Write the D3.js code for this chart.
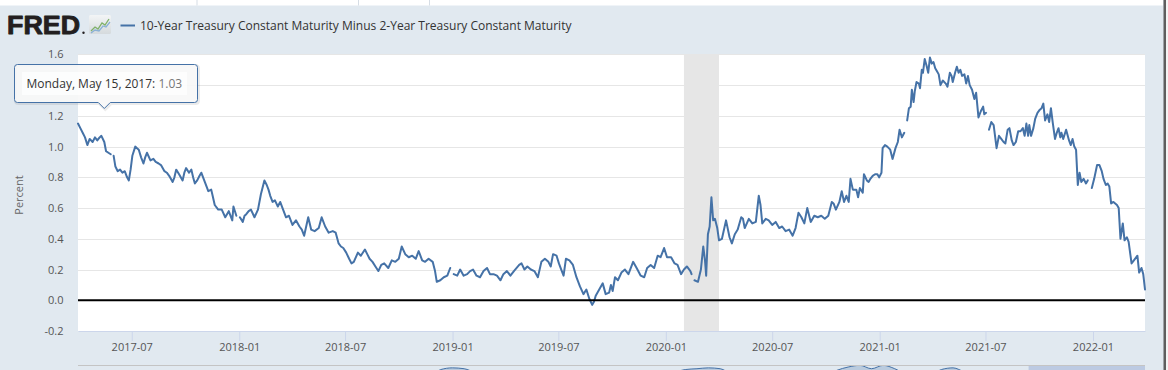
<!DOCTYPE html>
<html><head><meta charset="utf-8">
<script src="https://cdn.jsdelivr.net/npm/d3@7"></script>
<style>
html,body{margin:0;padding:0;background:#fff;overflow:hidden}
svg{display:block;font-family:"Open Sans",sans-serif}
</style></head><body>
<svg id="chart" width="1168" height="370"></svg>
<script>
// ---------------- DATA ----------------
const seriesTitle = "10-Year Treasury Constant Maturity Minus 2-Year Treasury Constant Maturity";
const yAxisTitle = "Percent";
const yTicks = [-0.2, 0, 0.2, 0.4, 0.6, 0.8, 1.0, 1.2, 1.4, 1.6];
const xTickLabels = ["2017-07","2018-01","2018-07","2019-01","2019-07","2020-01","2020-07","2021-01","2021-07","2022-01"];
const xDomain = ["2017-03-31", "2022-03-31"];
const recession = ["2020-02-01", "2020-04-01"];
const tooltipDate = "2017-05-15";
const tooltipLabel = "Monday, May 15, 2017";
const tooltipValue = "1.03";

const obsDates = [
"2017-03-31",
"2017-04-04","2017-04-08","2017-04-12","2017-04-16","2017-04-20","2017-04-25","2017-04-29",
"2017-05-03","2017-05-07","2017-05-10","2017-05-15","2017-05-18","2017-05-22","2017-05-26","2017-05-29","2017-05-31",
"2017-06-03","2017-06-07","2017-06-11","2017-06-15","2017-06-19","2017-06-23","2017-06-26","2017-06-29",
"2017-07-02","2017-07-07","2017-07-10","2017-07-13","2017-07-17","2017-07-21","2017-07-24","2017-07-27",
"2017-08-02","2017-08-07","2017-08-11","2017-08-16","2017-08-20","2017-08-26","2017-08-30",
"2017-09-03","2017-09-09","2017-09-12","2017-09-15","2017-09-20","2017-09-26","2017-09-29",
"2017-10-02","2017-10-07","2017-10-11","2017-10-14","2017-10-17","2017-10-21","2017-10-25","2017-10-28",
"2017-11-03","2017-11-09","2017-11-14","2017-11-17","2017-11-20","2017-11-26",
"2017-12-02","2017-12-08","2017-12-14","2017-12-20","2017-12-22","2017-12-27","2017-12-29",
"2018-01-02","2018-01-07","2018-01-10","2018-01-13","2018-01-17","2018-01-21","2018-01-27",
"2018-02-02","2018-02-07","2018-02-13","2018-02-17","2018-02-20","2018-02-23","2018-02-27",
"2018-03-03","2018-03-08","2018-03-12","2018-03-17","2018-03-22","2018-03-27",
"2018-04-02","2018-04-08","2018-04-14","2018-04-18","2018-04-22","2018-04-29",
"2018-05-04","2018-05-10","2018-05-17","2018-05-22","2018-05-28",
"2018-06-03","2018-06-10","2018-06-15","2018-06-20","2018-06-24","2018-06-28",
"2018-07-03","2018-07-08","2018-07-12","2018-07-16","2018-07-23","2018-07-28",
"2018-08-04","2018-08-08","2018-08-12","2018-08-17","2018-08-22","2018-08-27",
"2018-09-01","2018-09-06","2018-09-13","2018-09-19","2018-09-25",
"2018-10-01","2018-10-06","2018-10-12","2018-10-18","2018-10-24","2018-10-30",
"2018-11-04","2018-11-10","2018-11-15","2018-11-21","2018-11-28",
"2018-12-02","2018-12-05","2018-12-11","2018-12-17","2018-12-23","2018-12-28","2018-12-31",
"2019-01-03","2019-01-09","2019-01-14","2019-01-20","2019-01-26","2019-01-31",
"2019-02-05","2019-02-11","2019-02-17","2019-02-23",
"2019-03-01","2019-03-06","2019-03-12","2019-03-18","2019-03-24","2019-03-29",
"2019-04-04","2019-04-10","2019-04-16","2019-04-25","2019-04-29",
"2019-05-04","2019-05-09","2019-05-15","2019-05-21","2019-05-27",
"2019-06-02","2019-06-08","2019-06-14","2019-06-18","2019-06-22","2019-06-28",
"2019-07-02","2019-07-06","2019-07-10","2019-07-14","2019-07-20","2019-07-26",
"2019-08-01","2019-08-07","2019-08-13","2019-08-18","2019-08-23","2019-08-28","2019-08-31",
"2019-09-03","2019-09-09","2019-09-15","2019-09-20","2019-09-26","2019-09-29",
"2019-10-02","2019-10-06","2019-10-11","2019-10-17","2019-10-23","2019-10-29",
"2019-11-06","2019-11-12","2019-11-19","2019-11-25","2019-11-30",
"2019-12-06","2019-12-12","2019-12-18","2019-12-23","2019-12-29",
"2020-01-03","2020-01-10","2020-01-16","2020-01-21","2020-01-27",
"2020-02-01","2020-02-06","2020-02-12","2020-02-14","2020-02-17","2020-02-19","2020-02-25",
"2020-03-01","2020-03-05","2020-03-08","2020-03-10","2020-03-13","2020-03-16","2020-03-19","2020-03-22","2020-03-25","2020-03-29",
"2020-04-01","2020-04-06","2020-04-13","2020-04-19","2020-04-23","2020-04-28",
"2020-05-03","2020-05-09","2020-05-12","2020-05-15","2020-05-22","2020-05-28",
"2020-06-03","2020-06-08","2020-06-11","2020-06-14","2020-06-20","2020-06-25",
"2020-07-01","2020-07-07","2020-07-13","2020-07-18","2020-07-24","2020-07-30",
"2020-08-05","2020-08-10","2020-08-15","2020-08-20","2020-08-25","2020-08-30",
"2020-09-05","2020-09-11","2020-09-17","2020-09-23","2020-09-29",
"2020-10-05","2020-10-11","2020-10-14","2020-10-18","2020-10-24","2020-10-28",
"2020-11-01","2020-11-05","2020-11-09","2020-11-12","2020-11-16","2020-11-22","2020-11-25","2020-11-28",
"2020-12-03","2020-12-05","2020-12-10","2020-12-13","2020-12-16","2020-12-20","2020-12-24","2020-12-28","2020-12-31",
"2021-01-04","2021-01-06","2021-01-10","2021-01-14","2021-01-19","2021-01-23","2021-01-28",
"2021-02-01","2021-02-04","2021-02-08","2021-02-12","2021-02-15","2021-02-17","2021-02-20","2021-02-23","2021-02-25","2021-02-28",
"2021-03-02","2021-03-05","2021-03-09","2021-03-11","2021-03-14","2021-03-16","2021-03-19","2021-03-22","2021-03-25","2021-03-28","2021-03-31",
"2021-04-03","2021-04-06","2021-04-09","2021-04-12","2021-04-15","2021-04-19","2021-04-24","2021-04-27",
"2021-05-01","2021-05-04","2021-05-06","2021-05-10","2021-05-13","2021-05-16","2021-05-19","2021-05-22","2021-05-26","2021-05-29",
"2021-06-01","2021-06-04","2021-06-08","2021-06-12","2021-06-15","2021-06-19","2021-06-23","2021-06-27","2021-06-29",
"2021-07-02","2021-07-05","2021-07-07","2021-07-11","2021-07-15","2021-07-20","2021-07-24","2021-07-28",
"2021-08-01","2021-08-04","2021-08-08","2021-08-11","2021-08-15","2021-08-18","2021-08-22","2021-08-26","2021-08-30",
"2021-09-03","2021-09-06","2021-09-09","2021-09-12","2021-09-14","2021-09-17","2021-09-21","2021-09-24","2021-09-28",
"2021-10-02","2021-10-05","2021-10-08","2021-10-11","2021-10-15","2021-10-18","2021-10-21","2021-10-24","2021-10-28","2021-10-31",
"2021-11-03","2021-11-06","2021-11-08","2021-11-11","2021-11-16","2021-11-21","2021-11-24","2021-11-27","2021-11-30",
"2021-12-03","2021-12-06","2021-12-09","2021-12-12","2021-12-16","2021-12-20","2021-12-23","2021-12-26","2021-12-30",
"2022-01-03","2022-01-08","2022-01-12","2022-01-16","2022-01-19","2022-01-23","2022-01-26","2022-01-29",
"2022-02-01","2022-02-05","2022-02-11","2022-02-14","2022-02-17","2022-02-21","2022-02-24","2022-02-28",
"2022-03-03","2022-03-08","2022-03-12","2022-03-18","2022-03-21","2022-03-25","2022-03-28","2022-03-31"
];
const obsValues = [
1.15,
1.12,1.09,1.06,1.01,1.05,1.03,1.06,
1.04,1.06,1.07,1.03,0.97,0.96,0.95,null,0.94,
0.87,0.84,0.85,0.83,0.84,0.80,0.78,0.85,
0.94,1.00,0.99,0.98,0.93,0.89,0.93,0.96,
0.91,0.92,0.90,0.89,0.88,0.84,0.83,
0.81,0.77,0.80,0.85,0.82,0.78,0.83,
0.86,0.83,0.85,0.80,0.76,0.78,0.81,0.83,
0.77,0.71,0.72,0.67,0.62,0.59,
0.59,0.54,0.58,0.52,0.61,0.55,null,
0.54,0.51,0.55,0.56,0.58,0.59,0.54,
0.59,0.69,0.78,0.75,0.72,0.68,0.64,
0.65,0.61,0.64,0.59,0.54,0.55,
0.49,0.52,0.48,0.46,0.42,0.54,
0.46,0.45,0.47,0.54,0.48,
0.44,0.45,0.44,0.37,0.35,0.34,
0.31,0.27,0.24,0.25,0.31,0.29,
0.33,0.30,0.27,0.25,0.22,0.19,
0.23,0.24,0.21,0.26,0.25,
0.27,0.35,0.30,0.28,0.29,0.27,
0.32,0.26,0.25,0.27,0.25,
0.19,0.12,0.13,0.15,0.16,0.21,null,
0.17,0.16,0.20,0.16,0.17,0.19,
0.20,0.16,0.15,0.19,
0.21,0.17,0.17,0.16,0.13,0.17,
0.19,0.16,0.19,0.23,0.24,
0.20,0.22,0.20,0.19,0.15,
0.25,0.27,0.25,0.22,0.30,0.29,
0.24,0.20,0.16,0.27,0.26,0.23,
0.15,0.09,0.04,0.07,0.01,-0.03,-0.01,
0.03,0.07,0.11,0.04,0.05,0.10,
0.06,0.15,0.13,0.18,0.20,0.17,
0.25,0.21,0.16,0.15,0.21,
0.23,0.21,0.29,0.28,0.34,
0.28,0.28,0.24,0.23,0.17,
0.20,0.22,0.19,0.17,null,0.13,0.12,
0.20,0.35,0.26,0.16,0.43,0.48,0.67,0.52,0.53,0.47,
0.39,0.40,0.52,0.41,0.37,0.43,
0.46,0.54,0.53,0.47,0.53,0.50,
0.51,0.68,0.62,0.50,0.53,0.52,
0.49,0.51,0.47,0.48,0.45,0.46,
0.42,0.47,0.57,0.54,0.50,0.60,
0.51,0.55,0.54,0.55,0.53,
0.55,0.64,0.63,0.59,0.64,0.71,
0.64,0.68,0.64,0.79,0.72,0.72,0.67,0.73,
0.70,0.82,0.78,0.77,0.79,0.81,0.82,0.82,0.80,
0.83,0.99,1.01,1.00,0.98,0.92,0.99,
1.03,1.11,1.06,1.09,null,1.17,1.25,1.26,1.37,1.29,
1.36,1.42,1.41,1.38,1.50,1.48,1.57,1.53,1.48,1.58,1.54,
1.55,1.51,1.49,1.47,1.40,1.43,1.41,1.39,
1.48,1.46,1.42,1.48,1.52,1.48,1.50,1.46,1.47,1.41,
1.46,1.40,1.37,1.31,1.35,1.19,1.23,1.26,1.21,
1.22,null,1.11,1.16,1.14,0.99,1.07,1.05,
1.03,1.02,1.11,1.12,1.04,1.01,1.03,1.10,1.10,
1.12,1.07,1.15,1.07,1.14,1.07,1.12,1.18,1.22,
1.24,1.25,1.28,1.17,1.21,1.16,1.25,1.16,1.05,1.09,
1.12,1.06,1.09,1.05,1.11,1.04,1.01,1.05,1.00,
0.98,0.75,0.83,0.77,0.79,0.76,0.78,null,0.73,
0.79,0.88,0.88,0.84,0.79,0.75,0.76,0.74,
0.63,0.64,0.62,0.60,0.40,0.50,0.39,0.41,
0.38,0.24,0.26,0.29,0.18,0.21,0.17,0.07
];

// navigator (full history, semi-annual approximations)
const navDates = [
"1976-06-01","1977-01-01","1977-07-01","1978-01-01","1978-07-01","1979-01-01","1979-07-01","1980-01-01","1980-07-01",
"1981-01-01","1981-07-01","1982-01-01","1982-07-01","1983-01-01","1983-07-01","1984-01-01","1984-07-01","1985-01-01","1985-07-01",
"1986-01-01","1986-07-01","1987-01-01","1987-07-01","1988-01-01","1988-07-01","1989-01-01","1989-07-01","1990-01-01","1990-07-01",
"1991-01-01","1991-07-01","1992-01-01","1992-07-01","1993-01-01","1993-07-01","1994-01-01","1994-07-01","1995-01-01","1995-07-01",
"1996-01-01","1996-07-01","1997-01-01","1997-07-01","1998-01-01","1998-07-01","1999-01-01","1999-07-01","2000-01-01","2000-07-01",
"2001-01-01","2001-07-01","2002-01-01","2002-07-01","2003-01-01","2003-07-01","2004-01-01","2004-07-01","2005-01-01","2005-07-01",
"2006-01-01","2006-07-01","2007-01-01","2007-07-01","2008-01-01","2008-07-01","2009-01-01","2009-07-01","2010-01-01","2010-07-01",
"2011-01-01","2011-07-01","2012-01-01","2012-07-01","2013-01-01","2013-07-01","2014-01-01","2014-07-01","2015-01-01","2015-07-01",
"2016-01-01","2016-07-01","2017-01-01","2017-07-01","2018-01-01","2018-07-01","2019-01-01","2019-07-01","2020-01-01","2020-07-01",
"2021-01-01","2021-07-01","2022-01-01","2022-03-31"
];
const navValues = [
1.3,1.2,0.9,0.3,0.2,-0.6,-0.5,-0.9,0.8,
-1.4,-1.0,0.1,0.8,1.5,0.9,0.7,0.6,1.1,1.2,
0.8,0.8,0.9,1.0,0.7,0.5,0.1,-0.1,0.2,0.5,
1.2,1.5,2.3,2.5,2.4,1.9,1.5,1.0,0.4,0.5,
0.5,0.6,0.5,0.3,0.2,0.1,0.2,0.2,0.0,-0.3,
0.4,1.3,1.9,2.3,2.4,2.5,2.4,1.7,1.0,0.3,
0.0,-0.1,-0.1,0.1,1.0,1.5,2.2,2.6,2.8,2.4,
2.8,2.4,1.7,1.4,1.6,2.3,2.5,2.0,1.5,1.6,
1.2,0.9,1.2,0.9,0.6,0.3,0.2,0.1,0.2,0.5,
1.0,1.2,0.8,0.1
];

// ---------------- DRAW ----------------
const W = 1168, H = 370;
const P = {left: 78, right: 1145, top: 54.4, bottom: 331};
const parse = d3.timeParse("%Y-%m-%d");
const parseMonth = d3.timeParse("%Y-%m");
const svg = d3.select("#chart");

const x = d3.scaleTime().domain(xDomain.map(parse)).range([P.left, P.right]);
const y = d3.scaleLinear().domain([-0.2, 1.6]).range([P.bottom, P.top]);

// tooltip box geometry
const bx0 = 14.5, bx1 = 197.5, by0 = 64.5, by1 = 102.5, r = 3;

// background
svg.append("rect").attr("width", W).attr("height", H).attr("fill", "#e1e9f0");
svg.append("rect").attr("width", 1163).attr("height", 5.5).attr("fill", "#ffffff");
[197, 358.5, 429.5].forEach(px => svg.append("line").attr("x1", px).attr("x2", px).attr("y1", 0).attr("y2", 5.5).attr("stroke", "#d6dde5"));
svg.append("rect").attr("x", 1163.5).attr("y", 0).attr("width", 2.5).attr("height", H).attr("fill", "#5e5e5e");
svg.append("rect").attr("x", 1166).attr("y", 0).attr("width", 2).attr("height", H).attr("fill", "#f4f4f4");

// header
svg.append("text").attr("x", 7).attr("y", 34).attr("font-family", "'Liberation Sans', Arial, sans-serif")
  .attr("font-weight", 700).attr("font-size", 26).attr("fill", "#231f20")
  .attr("stroke", "#231f20").attr("stroke-width", 0.9).attr("stroke-linejoin", "round")
  .attr("textLength", 73).attr("lengthAdjust", "spacingAndGlyphs").text("FRED");
svg.append("circle").attr("cx", 83.5).attr("cy", 32.8).attr("r", 1.2).attr("fill", "#231f20");
const icon = svg.append("g").attr("transform", "translate(89,15)");
const grad = svg.append("defs").append("linearGradient").attr("id", "ig").attr("x1", 0).attr("y1", 0).attr("x2", 0).attr("y2", 1);
grad.append("stop").attr("offset", 0).attr("stop-color", "#f3f5f6");
grad.append("stop").attr("offset", 1).attr("stop-color", "#d5dadd");
icon.append("rect").attr("width", 22).attr("height", 19).attr("rx", 1.5).attr("fill", "url(#ig)");
icon.append("polyline").attr("points", "2,16 6,12 9,14 13,8 16,10 20,4").attr("fill", "none").attr("stroke", "#7fb069").attr("stroke-width", 1.3);
icon.append("polyline").attr("points", "2,18 6,15 10,16 14,11 17,12 21,7").attr("fill", "none").attr("stroke", "#8ab1d6").attr("stroke-width", 1.3);

svg.append("line").attr("x1", 120.5).attr("x2", 135).attr("y1", 25.5).attr("y2", 25.5).attr("stroke", "#4572a7").attr("stroke-width", 2);
const title = svg.append("text").attr("x", 140).attr("y", 30).attr("font-size", 12).attr("fill", "#333").text(seriesTitle);
const tl = title.node().getComputedTextLength();
if (tl > 0) title.attr("font-size", (12 * 432 / tl).toFixed(2));

// plot area
svg.append("rect").attr("x", P.left).attr("y", P.top).attr("width", P.right - P.left).attr("height", P.bottom - P.top).attr("fill", "#ffffff");

// recession band
svg.append("rect").attr("x", x(parse(recession[0]))).attr("y", P.top)
  .attr("width", x(parse(recession[1])) - x(parse(recession[0]))).attr("height", P.bottom - P.top).attr("fill", "#e6e6e6");

// gridlines
svg.append("g").selectAll("line").data(yTicks.filter(v => v > -0.2)).join("line")
  .attr("x1", P.left).attr("x2", P.right).attr("y1", d => Math.round(y(d)) + 0.5).attr("y2", d => Math.round(y(d)) + 0.5)
  .attr("stroke", "#e6e6e6");

// y axis (labels hidden behind the tooltip box are not shown, as in the reference)
const yAxis = svg.append("g").attr("transform", `translate(${P.left},0)`)
  .call(d3.axisLeft(y).tickValues(yTicks).tickSize(0).tickPadding(14.5).tickFormat(v => v.toFixed(1)));
yAxis.select(".domain").remove();
yAxis.selectAll("text").attr("font-family", "'Open Sans', sans-serif").attr("font-size", 11).attr("fill", "#555");
yAxis.selectAll(".tick").filter(d => y(d) > by0 - 4 && y(d) < by1 + 4).remove();

svg.append("text").attr("transform", "translate(18,195) rotate(-90)").attr("text-anchor", "middle")
  .attr("dominant-baseline", "central").attr("font-size", 11).attr("fill", "#666").text(yAxisTitle);

// x axis
const xAxis = svg.append("g").attr("transform", `translate(0,${P.bottom})`)
  .call(d3.axisBottom(x).tickValues(xTickLabels.map(parseMonth)).tickFormat(d3.timeFormat("%Y-%m"))
    .tickSizeInner(10).tickSizeOuter(0).tickPadding(2));
xAxis.select(".domain").attr("stroke", "#ccd6eb");
xAxis.selectAll(".tick line").attr("stroke", "#ccd6eb");
xAxis.selectAll("text").attr("font-family", "'Open Sans', sans-serif").attr("font-size", 11).attr("fill", "#555");

// series line
const data = obsDates.map((d, i) => ({date: parse(d), v: obsValues[i]}));
const line = d3.line().defined(d => d.v !== null).x(d => x(d.date)).y(d => y(d.v));
svg.append("path").datum(data).attr("d", line).attr("fill", "none").attr("stroke", "#4572a7")
  .attr("stroke-width", 2).attr("stroke-linejoin", "round").attr("stroke-linecap", "round");

// zero line
svg.append("line").attr("x1", P.left).attr("x2", P.right).attr("y1", y(0)).attr("y2", y(0)).attr("stroke", "#000").attr("stroke-width", 2);

// navigator
const navX = d3.scaleTime().domain([parse(navDates[0]), parse(navDates[navDates.length - 1])]).range([P.left, P.right]);
const navY = d3.scaleLinear().domain([-2.5, 2.9]).range([410, 364.5]);
svg.append("defs").append("clipPath").attr("id", "navclip").append("rect")
  .attr("x", P.left).attr("y", 365.5).attr("width", P.right - P.left).attr("height", 5);
const navData = navDates.map((d, i) => ({date: parse(d), v: navValues[i]}));
const navG = svg.append("g").attr("clip-path", "url(#navclip)");
navG.append("path").datum(navData)
  .attr("d", d3.area().curve(d3.curveMonotoneX).x(d => navX(d.date)).y0(410).y1(d => navY(d.v)))
  .attr("fill", "rgba(69,114,167,0.25)").attr("stroke", "#4572a7").attr("stroke-width", 1);
const selStart = navX(parse(xDomain[0]));
svg.append("rect").attr("x", selStart).attr("y", 365.5).attr("width", P.right - selStart).attr("height", 5)
  .attr("fill", "rgba(102,133,194,0.3)");
svg.append("line").attr("x1", P.left).attr("x2", P.right).attr("y1", 365.5).attr("y2", 365.5).attr("stroke", "#c4c4c4");

// tooltip
const tipX = x(parse(tooltipDate));
const tip = svg.append("g");
const tipPath = `M${bx0 + r},${by0} H${bx1 - r} Q${bx1},${by0} ${bx1},${by0 + r} V${by1 - r} Q${bx1},${by1} ${bx1 - r},${by1}
 H${tipX + 6} L${tipX},${by1 + 6} L${tipX - 6},${by1} H${bx0 + r} Q${bx0},${by1} ${bx0},${by1 - r} V${by0 + r} Q${bx0},${by0} ${bx0 + r},${by0} Z`;
tip.append("path").attr("d", tipPath).attr("transform", "translate(1,1)").attr("fill", "none").attr("stroke", "rgba(0,0,0,0.08)").attr("stroke-width", 3);
tip.append("path").attr("d", tipPath).attr("fill", "rgba(247,247,247,0.92)").attr("stroke", "#4572a7").attr("stroke-width", 1);
tip.append("rect").attr("x", 22).attr("y", 72).attr("width", 165).attr("height", 23).attr("fill", "rgba(255,255,255,0.7)");
const tt = tip.append("text").attr("x", 26.5).attr("y", 88).attr("font-size", 12);
tt.append("tspan").attr("fill", "#333").text(tooltipLabel + ": ");
tt.append("tspan").attr("fill", "#777").text(tooltipValue);
</script>
</body></html>
